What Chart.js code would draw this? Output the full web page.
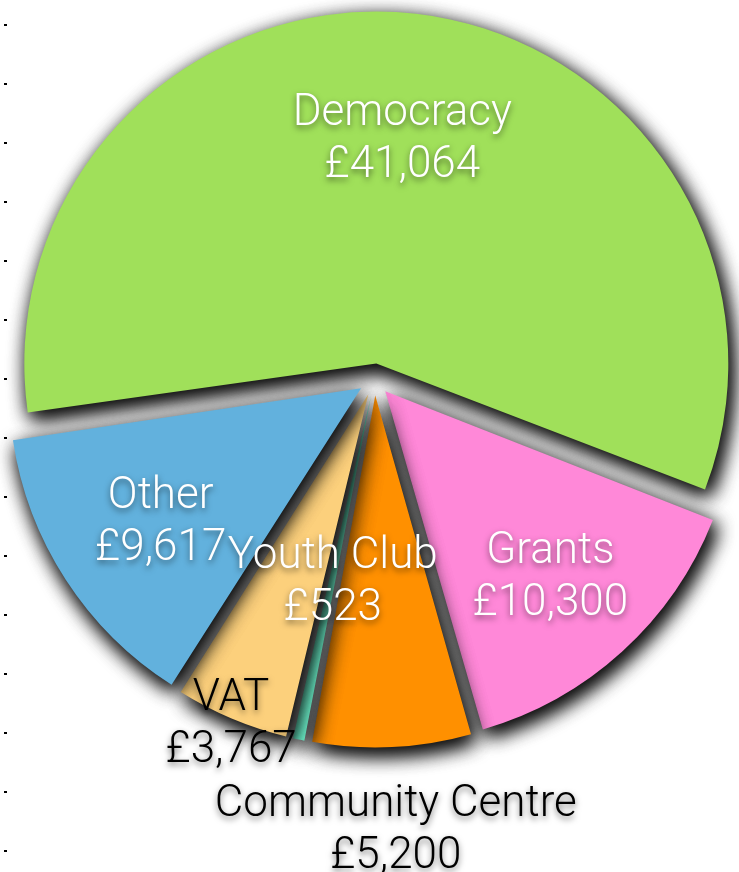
<!DOCTYPE html>
<html>
<head>
<meta charset="utf-8">
<script src="https://cdn.jsdelivr.net/npm/chart.js@4.4.1/dist/chart.umd.min.js"></script>
<style>
html,body{margin:0;padding:0;background:#ffffff;}
#wrap{width:739px;height:872px;position:relative;}
</style>
</head>
<body>
<div id="wrap"><canvas id="c" width="739" height="872"></canvas></div>
<script>
// ---- data ----
const categories = ['Democracy', 'Grants', 'Community Centre', 'Youth Club', 'VAT', 'Other'];
const amounts = [41064, 10300, 5200, 523, 3767, 9617];
const valueLabels = ['£41,064', '£10,300', '£5,200', '£523', '£3,767', '£9,617'];
const axisTicks = [0, 1, 2, 3, 4, 5, 6, 7, 8, 9, 10, 11, 12, 13, 14];

// ---- styling ----
const sliceColors = ['#A0E05A', '#FF88D8', '#FF9000', '#70F8D0', '#FCD07C', '#62B1DD'];
const labelColors = ['#ffffff', '#ffffff', '#000000', '#ffffff', '#000000', '#ffffff'];
const labelRadius = [0.699, 0.742, 1.271, 0.575, 1.049, 0.724];
const EXPLODE = 16;       // outward shift of every slice, px
const PIE_RADIUS = 352;
const FONT = '300 44px "Helvetica Neue", Roboto, "Liberation Sans", sans-serif';

// Chart.js moves an arc by offset/4 and grows its radius by offset/4*fix;
// the radius growth is undone below so every slice keeps the same radius.
const sliceOffset = EXPLODE * 4;

// draws each slice with a soft drop shadow (slice after slice, so a later
// slice's shadow falls over the earlier ones)
const FAR = 4000;
const shadowedSlicesPlugin = {
  id: 'shadowedSlices',
  beforeDatasetDraw(chart, args) {
    const ctx = chart.ctx;
    const meta = args.meta;
    meta.data.forEach(arc => {
      const circ = arc.endAngle - arc.startAngle;
      const fix = 1 - Math.sin(Math.min(Math.PI, circ));
      arc.outerRadius = PIE_RADIUS - EXPLODE * fix;
    });
    meta.data.forEach(arc => {
      // shadow only: shape drawn far off-canvas, its shadow thrown back on
      ctx.save();
      ctx.translate(-FAR, 0);
      ctx.shadowColor = 'rgba(0,0,0,0.85)';
      ctx.shadowBlur = 20;
      ctx.shadowOffsetX = FAR + 4;
      ctx.shadowOffsetY = 7;
      arc.draw(ctx);
      arc.draw(ctx);
      ctx.restore();
      ctx.save();
      arc.draw(ctx);
      ctx.restore();
    });
    return false;
  }
};

const labelPlugin = {
  id: 'sliceLabels',
  afterDraw(chart) {
    const ctx = chart.ctx;
    const meta = chart.getDatasetMeta(0);
    ctx.save();
    ctx.font = FONT;
    ctx.textAlign = 'center';
    ctx.textBaseline = 'alphabetic';
    meta.data.forEach((arc, i) => {
      const mid = (arc.startAngle + arc.endAngle) / 2;
      const r = PIE_RADIUS * labelRadius[i];
      const x = arc.x + Math.cos(mid) * r;
      const y = arc.y + Math.sin(mid) * r;
      ctx.shadowColor = 'rgba(0,0,0,0.55)';
      ctx.shadowBlur = 6;
      ctx.shadowOffsetX = 0;
      ctx.shadowOffsetY = 3;
      ctx.fillStyle = labelColors[i];
      ctx.fillText(categories[i], x, y - 10);
      ctx.fillText(valueLabels[i], x, y + 42);
    });
    ctx.restore();

    // small tick marks of the hidden vertical axis at the far left
    ctx.save();
    ctx.fillStyle = '#000000';
    const step = 59, top = 25;
    axisTicks.forEach(t => {
      ctx.fillRect(4, Math.round(top + t * step) - 1, 3, 2);
    });
    ctx.restore();
  }
};

new Chart(document.getElementById('c'), {
  type: 'pie',
  data: {
    labels: categories,
    datasets: [{
      data: amounts,
      backgroundColor: sliceColors,
      borderWidth: 0,
      offset: sliceOffset,
      hoverOffset: 0
    }]
  },
  options: {
    responsive: false,
    animation: false,
    devicePixelRatio: 1,
    events: [],
    rotation: -98.4,
    radius: PIE_RADIUS,
    layout: { padding: { left: 10, right: 0, top: 0, bottom: 113 } },
    plugins: {
      legend: { display: false },
      tooltip: { enabled: false },
      title: { display: false }
    }
  },
  plugins: [shadowedSlicesPlugin, labelPlugin]
});
</script>
</body>
</html>
